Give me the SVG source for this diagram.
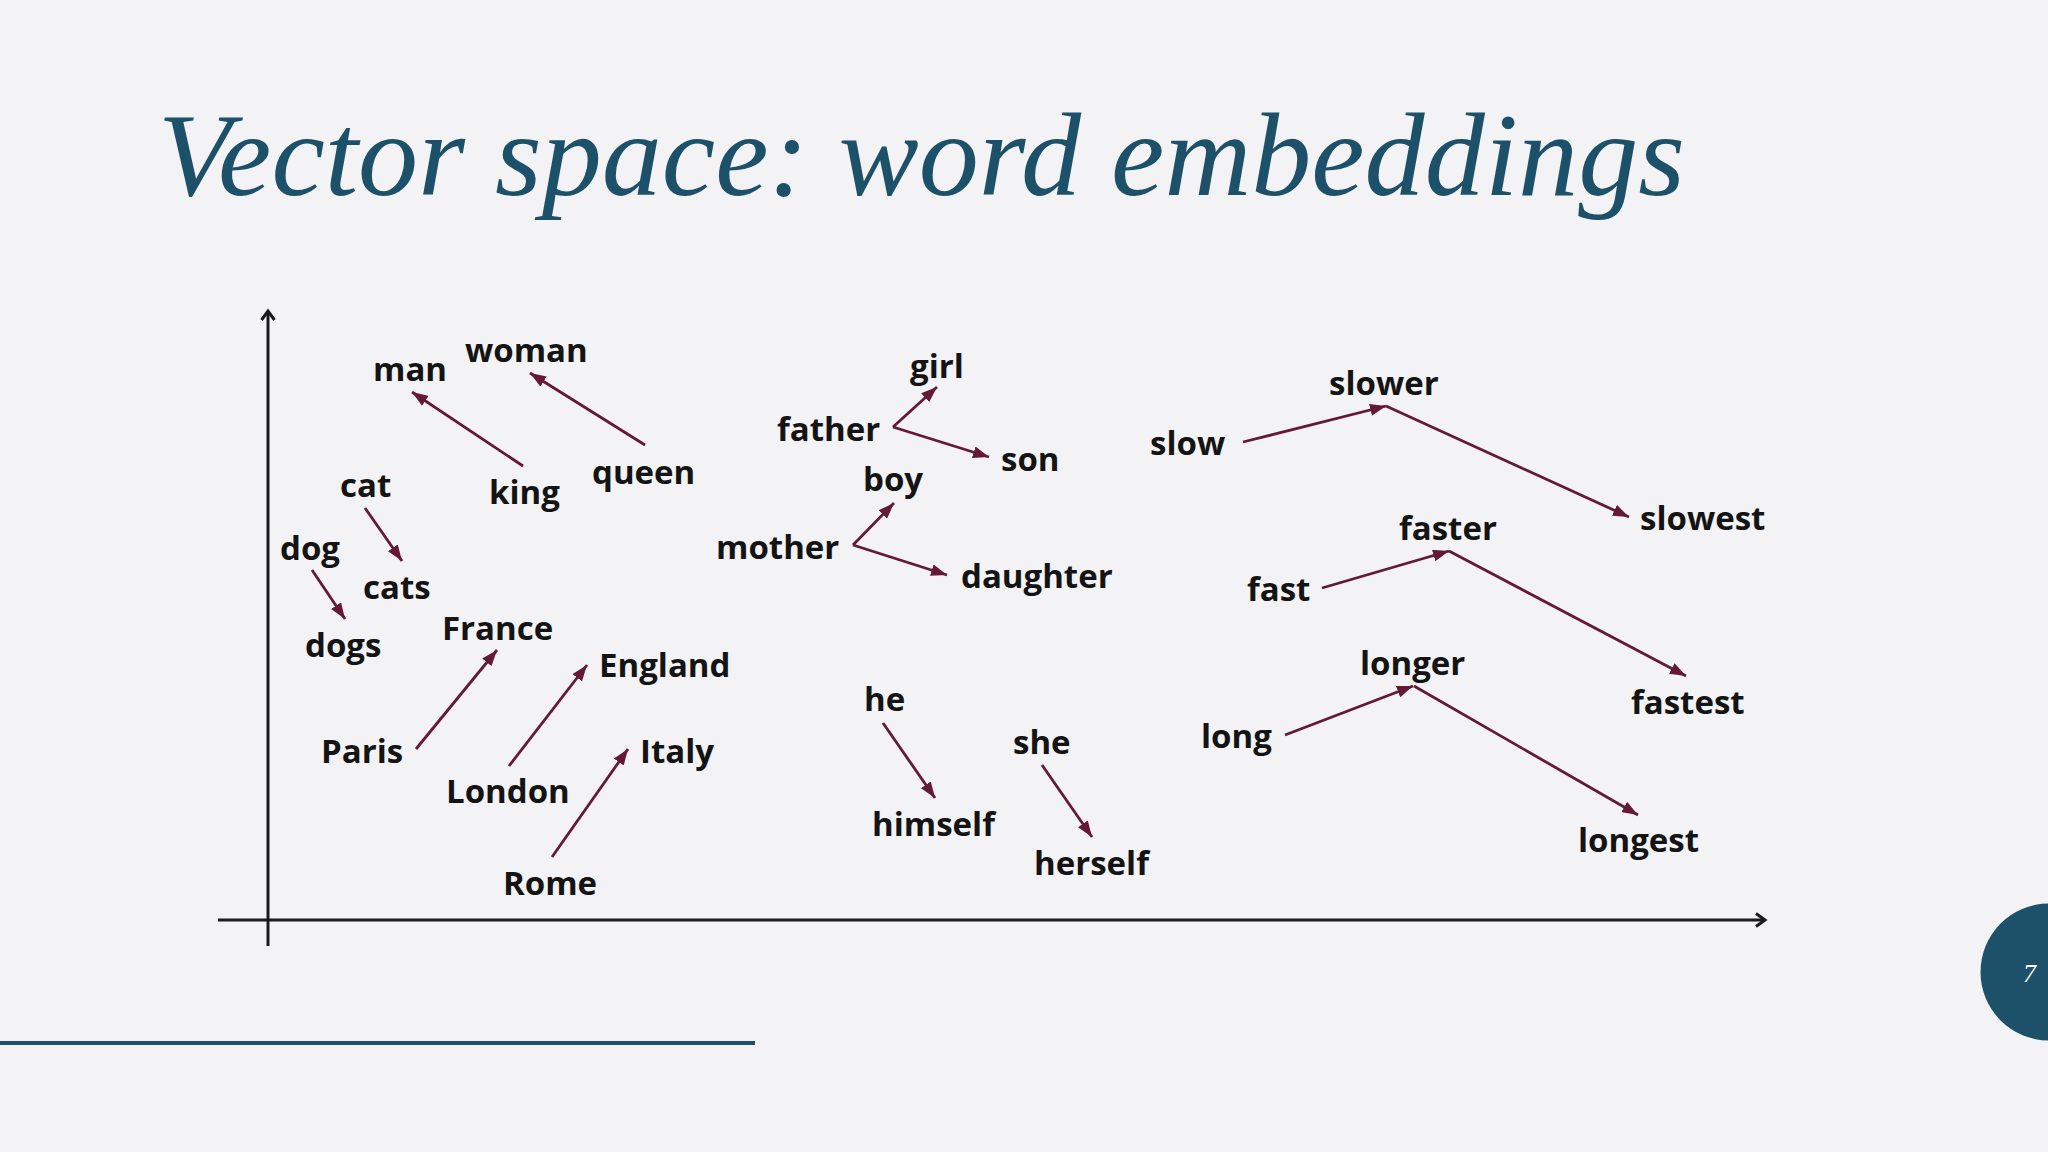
<svg xmlns="http://www.w3.org/2000/svg" width="2048" height="1152" viewBox="0 0 2048 1152">
<style>
.w{font-family:"Open Sans","Noto Sans",sans-serif;font-weight:700;font-size:33px;fill:#141414}
.c{stroke:#651a33;stroke-width:2.8;fill:none;marker-end:url(#ah)}
.ax{stroke:#1a1a1a;stroke-width:3;fill:none}
</style>
<defs>
<marker id="ah" viewBox="0 0 16 12" refX="16" refY="6" markerWidth="16" markerHeight="12" markerUnits="userSpaceOnUse" orient="auto">
<path d="M0,0 L16,6 L0,12 z" fill="#651a33"/>
</marker>
</defs>
<rect width="2048" height="1152" fill="#f3f2f4"/>
<text x="158" y="195" font-family="'Liberation Serif','DejaVu Serif',serif" font-style="italic" font-size="119" fill="#1d5069" textLength="1527" lengthAdjust="spacingAndGlyphs">Vector space: word embeddings</text>
<g id="axes">
<line class="ax" x1="268" y1="311" x2="268" y2="946"/>
<polyline class="ax" points="261.5,320 268,311 274.5,320"/>
<line class="ax" x1="218" y1="920" x2="1765" y2="920"/>
<polyline class="ax" points="1756,913.5 1765,920 1756,926.5"/>
</g>
<g id="connectors">
<line class="c" x1="523" y1="466" x2="412" y2="392"/>
<line class="c" x1="645" y1="445" x2="530" y2="373"/>
<line class="c" x1="365" y1="508" x2="402" y2="561"/>
<line class="c" x1="312" y1="570" x2="345" y2="619"/>
<line class="c" x1="416" y1="749" x2="497" y2="650"/>
<line class="c" x1="509" y1="766" x2="587" y2="665"/>
<line class="c" x1="552" y1="857" x2="628" y2="749"/>
<line class="c" x1="893" y1="427" x2="937" y2="387"/>
<line class="c" x1="893" y1="427" x2="989" y2="457"/>
<line class="c" x1="853" y1="545" x2="894" y2="503"/>
<line class="c" x1="853" y1="545" x2="947" y2="575"/>
<line class="c" x1="883" y1="723" x2="935" y2="798"/>
<line class="c" x1="1042" y1="765" x2="1092" y2="837"/>
<line class="c" x1="1243" y1="442" x2="1386" y2="406"/>
<line class="c" x1="1386" y1="406" x2="1629" y2="517"/>
<line class="c" x1="1322" y1="588" x2="1449" y2="551"/>
<line class="c" x1="1449" y1="551" x2="1686" y2="676"/>
<line class="c" x1="1285" y1="735" x2="1413" y2="686"/>
<line class="c" x1="1414" y1="686" x2="1638" y2="815"/>
</g>
<g id="n-man"><text class="w" x="373" y="381">man</text></g>
<g id="n-woman"><text class="w" x="465" y="362">woman</text></g>
<g id="n-king"><text class="w" x="489" y="504">king</text></g>
<g id="n-queen"><text class="w" x="592" y="484">queen</text></g>
<g id="n-cat"><text class="w" x="340" y="497">cat</text></g>
<g id="n-cats"><text class="w" x="363" y="599">cats</text></g>
<g id="n-dog"><text class="w" x="280" y="560">dog</text></g>
<g id="n-dogs"><text class="w" x="305" y="657">dogs</text></g>
<g id="n-france"><text class="w" x="442" y="640">France</text></g>
<g id="n-england"><text class="w" x="599" y="677">England</text></g>
<g id="n-paris"><text class="w" x="321" y="763">Paris</text></g>
<g id="n-london"><text class="w" x="446" y="803">London</text></g>
<g id="n-italy"><text class="w" x="640" y="763">Italy</text></g>
<g id="n-rome"><text class="w" x="503" y="895">Rome</text></g>
<g id="n-girl"><text class="w" x="910" y="378">girl</text></g>
<g id="n-father"><text class="w" x="777" y="441">father</text></g>
<g id="n-son"><text class="w" x="1001" y="471">son</text></g>
<g id="n-boy"><text class="w" x="863" y="491">boy</text></g>
<g id="n-mother"><text class="w" x="716" y="559">mother</text></g>
<g id="n-daughter"><text class="w" x="961" y="588">daughter</text></g>
<g id="n-he"><text class="w" x="864" y="711">he</text></g>
<g id="n-himself"><text class="w" x="872" y="836">himself</text></g>
<g id="n-she"><text class="w" x="1013" y="754">she</text></g>
<g id="n-herself"><text class="w" x="1034" y="875">herself</text></g>
<g id="n-slow"><text class="w" x="1150" y="455">slow</text></g>
<g id="n-slower"><text class="w" x="1329" y="395">slower</text></g>
<g id="n-slowest"><text class="w" x="1640" y="530">slowest</text></g>
<g id="n-fast"><text class="w" x="1247" y="601">fast</text></g>
<g id="n-faster"><text class="w" x="1399" y="540">faster</text></g>
<g id="n-fastest"><text class="w" x="1631" y="714">fastest</text></g>
<g id="n-long"><text class="w" x="1201" y="748">long</text></g>
<g id="n-longer"><text class="w" x="1360" y="675">longer</text></g>
<g id="n-longest"><text class="w" x="1578" y="852">longest</text></g>
<g id="footer">
<rect x="0" y="1041" width="755" height="4" fill="#1d5069"/>
<circle cx="2049" cy="972" r="68.5" fill="#1d5069"/>
<text x="2023" y="982" font-family="'Liberation Serif','DejaVu Serif',serif" font-style="italic" font-size="26" fill="#ffffff">7</text>
</g>
</svg>
